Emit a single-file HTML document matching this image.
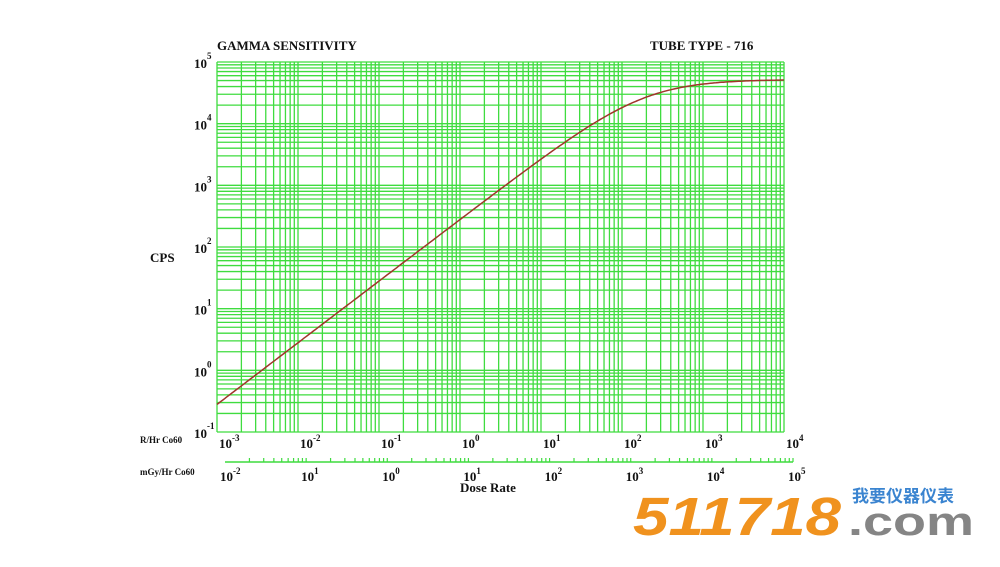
<!DOCTYPE html>
<html><head><meta charset="utf-8"><style>
body{margin:0;background:#fff;width:1000px;height:562px;overflow:hidden}
svg text{font-family:"Liberation Serif",serif;font-weight:bold;fill:#111}
</style></head><body>
<svg id="s" width="1000" height="562" xmlns="http://www.w3.org/2000/svg">
<text x="217" y="50" font-size="13">GAMMA SENSITIVITY</text>
<text x="650" y="50" font-size="13">TUBE TYPE - 716</text>
<text x="150" y="262" font-size="13">CPS</text>
<text x="140" y="443" font-size="9">R/Hr Co60</text>
<text x="140" y="475" font-size="9">mGy/Hr Co60</text>
<text x="460" y="492" font-size="13">Dose Rate</text>
<g id="g"></g>
<text x="633" y="535" font-size="54" textLength="208" lengthAdjust="spacingAndGlyphs" style="fill:#f0921e;font-family:'Liberation Sans',sans-serif;font-style:italic;font-weight:bold">511718</text>
<text x="852" y="502" font-size="17" style="fill:#3a84d0;font-family:'Liberation Sans','Noto Sans CJK SC',sans-serif">我要仪器仪表</text>
<text x="848" y="535" font-size="40" textLength="126" lengthAdjust="spacingAndGlyphs" style="fill:#858585;font-family:'Liberation Sans',sans-serif;font-weight:bold">.com</text>
</svg>
<script>
var g=document.getElementById('g'),h='';
var L=217,R=784,T=62,B=432,dx=(R-L)/7,dy=(B-T)/6;
function X(l){return L+(l+3)*dx}function Y(l){return B-(l+1)*dy}
for(var d=0;d<7;d++)for(var k=1;k<10;k++){var x=L+(d+Math.log10(k))*dx;h+='<line x1="'+x+'" y1="'+T+'" x2="'+x+'" y2="'+B+'" stroke="#3fdc3f" stroke-width="1.3"/>';}
h+='<line x1="'+R+'" y1="'+T+'" x2="'+R+'" y2="'+B+'" stroke="#3fdc3f" stroke-width="1.3"/>';
for(var d=0;d<6;d++)for(var k=1;k<10;k++){var y=B-(d+Math.log10(k))*dy;h+='<line x1="'+L+'" y1="'+y+'" x2="'+R+'" y2="'+y+'" stroke="#3fdc3f" stroke-width="1.3"/>';}
h+='<line x1="'+L+'" y1="'+T+'" x2="'+R+'" y2="'+T+'" stroke="#3fdc3f" stroke-width="1.3"/>';
for(var e=-1;e<=5;e++){var y=Y(e);h+='<text x="194" y="'+(y+6)+'" font-size="13">10</text><text x="207" y="'+(y-3)+'" font-size="9">'+e+'</text>';}
for(var e=-3;e<=4;e++){var x=X(e)+2;h+='<text x="'+x+'" y="448" font-size="13">10</text><text x="'+(x+13)+'" y="441" font-size="9">'+e+'</text>';}
var L2=225,R2=793,d2=(R2-L2)/7;
h+='<line x1="'+L2+'" y1="462" x2="'+R2+'" y2="462" stroke="#3fdc3f" stroke-width="1.5"/>';
for(var d=0;d<7;d++)for(var k=2;k<=10;k++){var x=L2+(d+Math.log10(k))*d2;h+='<line x1="'+x+'" y1="458" x2="'+x+'" y2="462" stroke="#3fdc3f" stroke-width="1.2"/>';}
var lab2=['-2','1','0','1','2','3','4','5'];
for(var i=0;i<8;i++){var x=L2+i*d2-5;h+='<text x="'+x+'" y="481" font-size="13">10</text><text x="'+(x+13)+'" y="474" font-size="9">'+lab2[i]+'</text>';}
var p='';for(var i=0;i<=300;i++){var l=-3+7*i/300,r=Math.pow(10,l),n=280*r,N=n/(1+n/52000);p+=(i?'L':'M')+X(l).toFixed(1)+','+Y(Math.log10(N)).toFixed(1);}
h+='<path d="'+p+'" fill="none" stroke="#a0352a" stroke-width="1.5"/>';
g.innerHTML=h;
</script>
</body></html>
